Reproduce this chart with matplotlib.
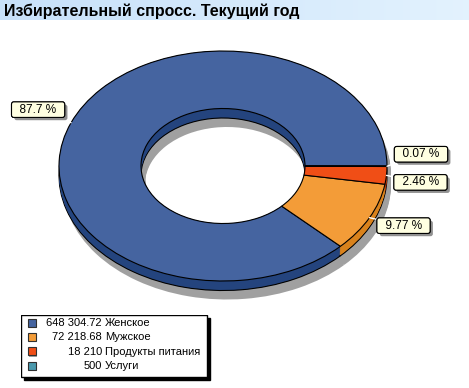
import numpy as np
import matplotlib
matplotlib.use("Agg")
import matplotlib.pyplot as plt
from matplotlib import patheffects
from matplotlib.patches import Rectangle

plt.rcParams['font.family'] = ['Liberation Sans', 'DejaVu Sans']

#%% данные
title = "Избирательный спросс. Текущий год"
categories = ["Женское", "Мужское", "Продукты питания", "Услуги"]
values = [648304.72, 72218.68, 18210, 500]

top_colors = ["#4564A0", "#F39C38", "#F04E16", "#4A98AC"]
side_colors = ["#24447E", "#D9821C", "#B83A0C", "#2E6E7E"]
shadow_color = "#A0A0A0"

# смещения подписей (пиксели) относительно середины сектора
label_offsets = [(-33, 13), (34, -8), (34, -7), (34, 12)]

#%% геометрия
W, H = 469, 388
CX, CY, RX, RY = 223, 166, 164, 115
DEPTH = 9.5 / RY
SHX, SHY = 4 / RX, 9 / RY

fig = plt.figure(figsize=(W / 100, H / 100), dpi=100)
fig.patch.set_facecolor("white")

ax = fig.add_axes([0, 0, 1, 1])
ax.set_facecolor("none")


def donut(center, colors, **kw):
    ax.pie(values, colors=colors, radius=1, center=center, startangle=0,
           counterclock=True, frame=False,
           wedgeprops=dict(width=0.5, **kw))


# тень
for t in np.linspace(0, 1, 8):
    donut((SHX, -SHY - t * DEPTH), [shadow_color] * 4, linewidth=0)

# боковая сторона
donut((0, -DEPTH), side_colors, edgecolor="black", linewidth=0.8)
for t in np.linspace(1, 0, 10)[1:]:
    donut((0, -t * DEPTH), side_colors, linewidth=0)

# верхняя грань
donut((0, 0), top_colors, edgecolor="black", linewidth=0.8)

ax.set_aspect("auto")
ax.set_xlim(-CX / RX, (W - CX) / RX)
ax.set_ylim((CY - H) / RY, CY / RY)
ax.axis("off")

#%% подписи процентов
total = sum(values)
start = 0.0
for v, off in zip(values, label_offsets):
    frac = v / total
    mid = np.deg2rad((start + frac / 2) * 360)
    start += frac
    pct = round(frac * 100, 2)
    txt = ax.annotate("  %g %%  " % pct, xy=(np.cos(mid), np.sin(mid)),
                      xytext=off, textcoords="offset pixels",
                      ha="center", va="center", fontsize=8.5,
                      bbox=dict(boxstyle="round,pad=0.15,rounding_size=0.2",
                                fc="#FFFFE1", ec="black", lw=0.8),
                      arrowprops=dict(arrowstyle="-", color="white", lw=1,
                                      shrinkA=0, shrinkB=0))
    txt.get_bbox_patch().set_path_effects(
        [patheffects.withSimplePatchShadow(offset=(2, -2),
                                           shadow_rgbFace="#909090", alpha=1),
         patheffects.Normal()])

#%% заголовок
tax = fig.add_axes([0, 1 - 20 / H, 1, 20 / H])
grad = np.linspace(0, 1, 256)[None, :, None]
c0 = np.array([0.78, 0.88, 0.98])
c1 = np.array([0.89, 0.95, 0.995])
tax.imshow(c0 + (c1 - c0) * grad, aspect="auto", extent=[0, 1, 0, 1])
tax.set_xlim(0, 1)
tax.set_ylim(0, 1)
tax.axis("off")
tax.text(4 / W, 0.45, title, fontsize=11.5, fontweight="bold",
         ha="left", va="center", color="black")

#%% легенда
L, T, LW, LH = 21, 315, 186, 62
lax = fig.add_axes([L / W, 1 - (T + LH + 5) / H, (LW + 5) / W, (LH + 5) / H])
lax.set_xlim(0, LW + 5)
lax.set_ylim(LH + 5, 0)
lax.axis("off")
lax.add_patch(Rectangle((3, 3), LW, LH, fc="black", ec="black", lw=1))
lax.add_patch(Rectangle((0, 0), LW, LH, fc="white", ec="black", lw=1))
for i, (name, v, c) in enumerate(zip(categories, values, top_colors)):
    y = 8 + i * 14.4
    lax.add_patch(Rectangle((8, y - 3), 8, 8, fc="#A0A0A0", ec="none"))
    lax.add_patch(Rectangle((6.5, y - 4.5), 8, 8, fc=c, ec="#303030", lw=0.8))
    lax.text(81, y, format(v, ",.10g").replace(",", " "), fontsize=8,
             ha="right", va="center")
    lax.text(84, y, name, fontsize=8, ha="left", va="center")

fig.savefig("out.png", dpi=100)
